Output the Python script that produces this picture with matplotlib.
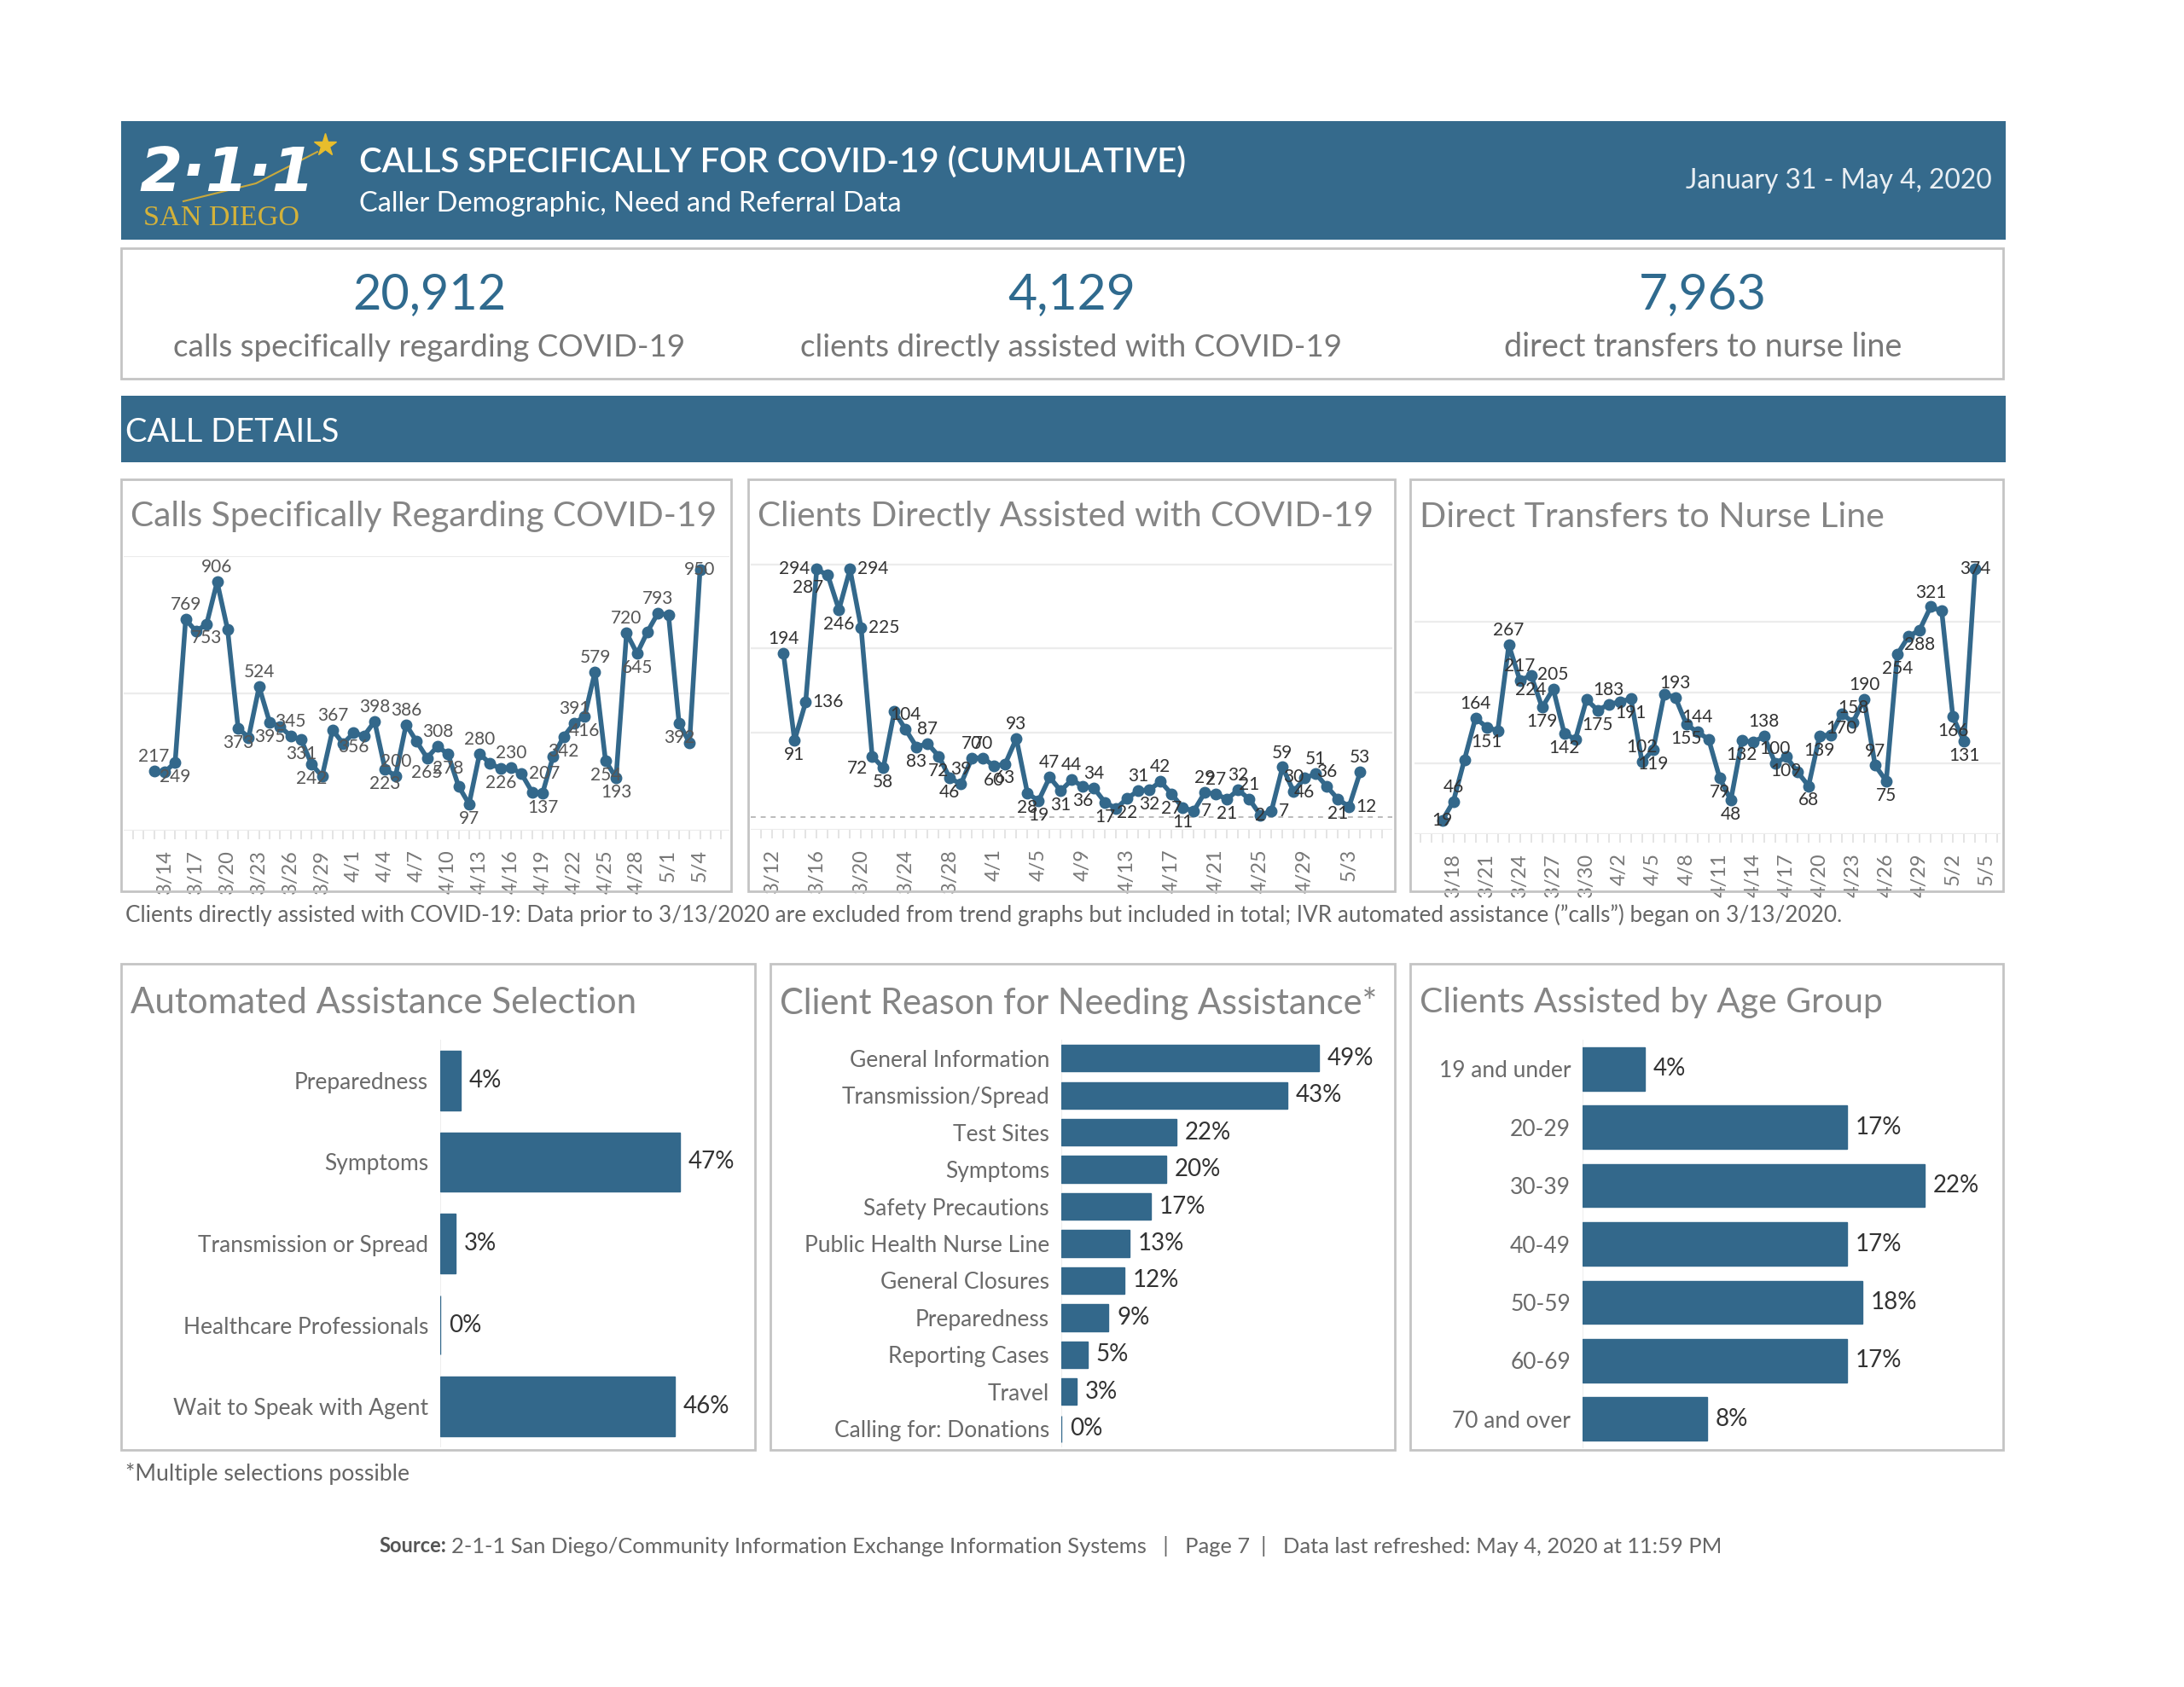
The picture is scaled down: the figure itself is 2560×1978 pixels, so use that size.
import numpy as np
import matplotlib
matplotlib.use('Agg')
import matplotlib.pyplot as plt
from matplotlib.patches import Rectangle
from matplotlib.lines import Line2D
from datetime import date, timedelta

plt.rcParams['font.family'] = ['Lato', 'DejaVu Sans']

BLUE = '#33688b'
GRAY = '#777777'
BORDER = '#c4c4c4'

# daily series
calls = [217, 213, 249, 769, 726, 753, 906, 732, 373, 340, 524, 395, 379, 345, 331, 242, 198,
         367, 317, 356, 346, 398, 223, 200, 386, 325, 265, 308, 278, 162, 97, 280, 245, 226,
         230, 207, 141, 137, 270, 342, 391, 416, 579, 254, 193, 720, 645, 725, 793, 785, 392,
         320, 950]
calls_start = date(2020, 3, 13)

clients = [194, 91, 136, 294, 287, 246, 294, 225, 72, 58, 125, 104, 83, 87, 72, 46, 39, 70,
           70, 60, 63, 93, 28, 19, 47, 31, 44, 36, 34, 17, 10, 22, 31, 32, 42, 27, 11, 7, 29,
           27, 21, 32, 21, 2, 7, 59, 30, 46, 51, 36, 21, 12, 53]
clients_start = date(2020, 3, 13)

nurse = [19, 46, 105, 164, 151, 146, 267, 217, 224, 179, 205, 142, 134, 190, 175, 183, 187,
         191, 102, 119, 198, 193, 155, 144, 134, 79, 48, 132, 130, 138, 100, 109, 88, 68, 139,
         140, 170, 158, 190, 97, 75, 254, 279, 288, 321, 315, 166, 131, 374]
nurse_start = date(2020, 3, 17)

# which points carry a value label, and where it sits
calls_labels = {0: 'a', 2: 'b', 3: 'a', 5: 'b', 6: 'a', 8: 'b', 10: 'a', 11: 'b', 13: 'a',
                14: 'b', 15: 'b', 17: 'a', 19: 'b', 21: 'a', 22: 'b', 23: 'a', 24: 'a', 26: 'b',
                27: 'a', 28: 'b', 30: 'b', 31: 'a', 33: 'b', 34: 'a', 35: 'r', 37: 'b', 39: 'b',
                40: 'a', 41: 'b', 42: 'a', 43: 'b', 44: 'b', 45: 'a', 46: 'b', 48: 'a', 50: 'b',
                52: 'c'}
clients_labels = {0: 'a', 1: 'b', 2: 'r', 3: 'l', 4: 'bl', 5: 'b', 6: 'r', 7: 'r', 8: 'bl',
                  9: 'b', 11: 'a', 12: 'b', 13: 'a', 14: 'b', 15: 'b', 16: 'a', 17: 'a',
                  18: 'a', 19: 'b', 20: 'b', 21: 'a', 22: 'b', 23: 'b', 24: 'a', 25: 'b',
                  26: 'a', 27: 'b', 28: 'a', 29: 'b', 31: 'b', 32: 'a', 33: 'b', 34: 'a',
                  35: 'b', 36: 'b', 37: 'r', 38: 'a', 39: 'a', 40: 'b', 41: 'a', 42: 'a',
                  43: 'c', 44: 'r', 45: 'a', 46: 'a', 47: 'b', 48: 'a', 49: 'a', 50: 'b',
                  51: 'r', 52: 'a'}
nurse_labels = {0: 'c', 1: 'a', 3: 'a', 4: 'b', 6: 'a', 7: 'a', 8: 'b', 9: 'b', 10: 'a',
                11: 'b', 14: 'b', 15: 'a', 17: 'b', 18: 'a', 19: 'b', 21: 'a', 22: 'b',
                23: 'a', 25: 'b', 26: 'b', 27: 'b', 29: 'a', 30: 'a', 31: 'b', 33: 'b',
                34: 'b', 36: 'b', 37: 'a', 38: 'a', 39: 'a', 40: 'b', 41: 'b', 43: 'b',
                44: 'a', 46: 'b', 47: 'b', 48: 'c'}

auto_cats = ['Preparedness', 'Symptoms', 'Transmission or Spread', 'Healthcare Professionals',
             'Wait to Speak with Agent']
auto_pct = [4, 47, 3, 0, 46]

reason_cats = ['General Information', 'Transmission/Spread', 'Test Sites', 'Symptoms',
               'Safety Precautions', 'Public Health Nurse Line', 'General Closures',
               'Preparedness', 'Reporting Cases', 'Travel', 'Calling for: Donations']
reason_pct = [49, 43, 22, 20, 17, 13, 12, 9, 5, 3, 0]

age_cats = ['19 and under', '20-29', '30-39', '40-49', '50-59', '60-69', '70 and over']
age_pct = [4, 17, 22, 17, 18, 17, 8]

kpi_values = ['20,912', '4,129', '7,963']
kpi_texts = ['calls specifically regarding COVID-19', 'clients directly assisted with COVID-19',
             'direct transfers to nurse line']

W, H = 2560, 1978
fig = plt.figure(figsize=(W / 100, H / 100), dpi=100)
renderer = fig.canvas.get_renderer()


def fr(x0, y0, x1, y1):
    return [x0 / W, 1 - y1 / H, (x1 - x0) / W, (y1 - y0) / H]


def box(x0, y0, x1, y1, fc='none', ec=BORDER, lw=2):
    fig.add_artist(Rectangle((x0 / W, 1 - y1 / H), (x1 - x0) / W, (y1 - y0) / H,
                             transform=fig.transFigure, facecolor=fc, edgecolor=ec, lw=lw))


def txt(x, y, s, width=None, size=20, **kw):
    kw.setdefault('va', 'center')
    t = fig.text(x / W, 1 - y / H, s, fontsize=size, **kw)
    if width:
        bb = t.get_window_extent(renderer)
        t.set_fontsize(size * width / bb.width)
    return t


# header
box(142, 142, 2351, 281, fc='#356a8c', ec='none')
txt(421, 190, 'CALLS SPECIFICALLY FOR COVID-19 (CUMULATIVE)', width=970, color='white',
    weight='semibold')
txt(421, 239, 'Caller Demographic, Need and Referral Data', width=637, color='white')
txt(2335, 212, 'January 31 - May 4, 2020', width=359, color='#e8eef3', ha='right')
# logo
txt(163, 205, '2·1·1', width=205, color='white', weight='heavy', style='italic',
    family='DejaVu Sans')
txt(168, 256, 'SAN DIEGO', width=183, color='#d4b23a', family='Liberation Serif')
fig.add_artist(Line2D([215 / W, 300 / W, 372 / W], [1 - 236 / H, 1 - 215 / H, 1 - 178 / H],
                      transform=fig.transFigure, color='#c9a93c', lw=1.5))
fig.add_artist(Line2D([381 / W], [1 - 170 / H], transform=fig.transFigure, marker='*',
                      ms=20, color='#e8bd2c', lw=0))

# KPI strip
box(142, 291, 2348, 444)
for cx, v, s, w1, w2 in zip([503, 1256, 1996], kpi_values, kpi_texts, [180, 150, 150],
                            [601, 637, 469]):
    txt(cx, 346, v, width=w1, color='#2f6a8e', ha='center')
    txt(cx, 407, s, width=w2, color=GRAY, ha='center')

box(142, 464, 2351, 542, fc='#356a8c', ec='none')
txt(147, 507, 'CALL DETAILS', width=250, color='white')


def line_chart(panel, area, values, start, labels, ylim, grid, dashed0, ticks, lab_color,
               title, title_w):
    box(*panel)
    txt(panel[0] + 11, 606, title, width=title_w, color='#858585')
    ax = fig.add_axes(fr(*area[:4]))
    x = np.arange(len(values))
    for g in grid:
        ax.axhline(g, color='#ececec', lw=1.6, zorder=1)
    if dashed0:
        ax.axhline(0, color='#bbbbbb', lw=1.4, ls=(0, (3, 3)), zorder=1)
    ax.axhline(ylim[0], color='#ececec', lw=1.6, zorder=1)
    ax.plot(x, values, color=BLUE, lw=4, marker='o', ms=9, solid_joinstyle='round',
            zorder=3, clip_on=False)
    offs = {'a': (0, 5, 'center', 'bottom'), 'b': (0, -5, 'center', 'top'),
            'r': (6, 0, 'left', 'center'), 'l': (-6, 0, 'right', 'center'),
            'bl': (-4, -3, 'right', 'top'), 'c': (0, 0, 'center', 'center')}
    for i, pos in labels.items():
        dx, dy, ha, va = offs[pos]
        ax.annotate(str(values[i]), (i, values[i]), xytext=(dx, dy), textcoords='offset points',
                    ha=ha, va=va, fontsize=15, color=lab_color, zorder=4)
    ax.set_ylim(ylim)
    ax.set_xlim(area[4], area[5])
    for s in ax.spines.values():
        s.set_visible(False)
    ax.set_yticks([])
    ax.set_xticks(ticks)
    ax.set_xticklabels(['%d/%d' % ((start + timedelta(days=int(i))).month,
                                   (start + timedelta(days=int(i))).day) for i in ticks],
                       rotation=90, fontsize=17, color=GRAY)
    ax.set_xticks(np.arange(np.ceil(area[4]), area[5]), minor=True)
    ax.tick_params(which='both', length=7, color='#e2e2e2', width=1.3, pad=9)
    ax.patch.set_alpha(0)


line_chart((142, 562, 857, 1045), (145, 652, 855, 974, -2.9, 54.8), calls, calls_start,
           calls_labels, (0, 1000), [500, 1000], False, list(range(1, 53, 3)), '#555555',
           'Calls Specifically Regarding COVID-19', 689)
line_chart((877, 562, 1635, 1045), (880, 651, 1632, 973, -2.95, 54.9), clients,
           clients_start, clients_labels, (-15.5, 310.7), [100, 200, 300], True,
           list(range(-1, 53, 4)), '#333333', 'Clients Directly Assisted with COVID-19', 725)
line_chart((1653, 562, 2348, 1045), (1658, 650, 2345, 978, -2.5, 50.3), nurse, nurse_start,
           nurse_labels, (0, 395), [100, 200, 300], False, list(range(1, 50, 3)), '#333333',
           'Direct Transfers to Nurse Line', 547)

txt(147, 1073, 'Clients directly assisted with COVID-19: Data prior to 3/13/2020 are excluded '
    'from trend graphs but included in total; IVR automated assistance (\u201dcalls\u201d) '
    'began on 3/13/2020.', width=2012, color='#666666')


def bar_chart(panel, area, cats, vals, xmax, height, title, title_w):
    box(*panel)
    txt(panel[0] + 11, 1176, title, width=title_w, color='#858585')
    ax = fig.add_axes(fr(*area))
    y = np.arange(len(cats))
    ax.barh(y, vals, height=height, color=BLUE, edgecolor=BLUE, lw=1, zorder=2)
    ax.axvline(0, color='#eeeeee', lw=1.5, zorder=1)
    for yi, v in zip(y, vals):
        ax.annotate('%d%%' % v, (v, yi), xytext=(7, 0), textcoords='offset points',
                    va='center', ha='left', fontsize=20, color='#333333')
    ax.set_xlim(0, xmax)
    ax.set_ylim(len(cats) - 0.5, -0.5)
    ax.set_yticks(y)
    ax.set_yticklabels(cats, fontsize=19, color='#6a6a6a')
    ax.tick_params(length=0, pad=10)
    ax.set_xticks([])
    for s in ax.spines.values():
        s.set_visible(False)
    ax.patch.set_alpha(0)


bar_chart((142, 1130, 885, 1700), (516, 1219, 870, 1697), auto_cats, auto_pct, 59.2, 0.73,
          'Automated Assistance Selection', 593)
bar_chart((903, 1130, 1635, 1700), (1244, 1219, 1630, 1697), reason_cats, reason_pct, 62.7,
          0.72, 'Client Reason for Needing Assistance*', 701)
bar_chart((1653, 1130, 2348, 1700), (1855, 1219, 2340, 1698), age_cats, age_pct, 26.6, 0.74,
          'Clients Assisted by Age Group', 545)

txt(147, 1728, '*Multiple selections possible', width=333, color='#666666')
t = txt(444, 1813, 'Source:', size=17, color='#555555', weight='bold')
bb = t.get_window_extent(renderer)
txt(444 + bb.width + 6, 1813, '2-1-1 San Diego/Community Information Exchange Information '
    'Systems   |   Page 7  |   Data last refreshed: May 4, 2020 at 11:59 PM', width=1490,
    color='#666666')

fig.savefig('out.png', dpi=100, facecolor='white')
